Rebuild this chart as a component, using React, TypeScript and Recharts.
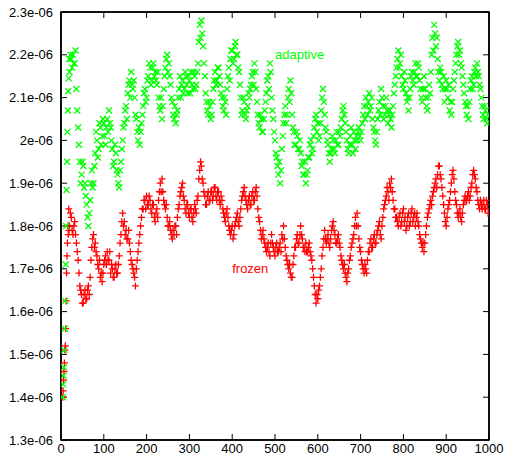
import React from "react";
import { ScatterChart, Scatter, XAxis, YAxis, ReferenceDot, ReferenceArea } from "recharts";

// values are in units of 1e-6
const xTicks = [0, 100, 200, 300, 400, 500, 600, 700, 800, 900, 1000];
const yTicks = [1.3, 1.4, 1.5, 1.6, 1.7, 1.8, 1.9, 2.0, 2.1, 2.2, 2.3];
const yTickLabels = ["1.3e-06", "1.4e-06", "1.5e-06", "1.6e-06", "1.7e-06", "1.8e-06", "1.9e-06", "2e-06", "2.1e-06", "2.2e-06", "2.3e-06"];

const HEAD_START = 4; // x of first head sample, step 1
const BODY_START = 20; // x of first body sample
const BAND_START = 22; // x of first band sample
const STEP = 4;

const adaptiveHead = [1.40, 1.43, 1.45, 1.47, 1.51, 1.56, 1.625, 1.71, 1.80, 1.884, 1.95, 2.02, 2.07, 2.115, 2.145, 2.19];
const frozenHead = [1.40, 1.415, 1.44, 1.46, 1.48, 1.51, 1.52, 1.56, 1.625, 1.69, 1.73, 1.76, 1.80, 1.78, 1.84, 1.79];

const adaptiveBody = [
  2.16, 2.19, 2.20, 2.18, 2.12, 2.03, 1.95, 1.92, 1.94, 1.90,
  1.85, 1.80, 1.86, 1.93, 1.90, 1.97, 2.00, 1.98, 2.03, 2.01,
  2.04, 1.99, 2.05, 2.07, 2.03, 1.98, 1.95, 1.97, 1.92, 1.89,
  1.95, 2.00, 2.04, 2.08, 2.11, 2.14, 2.16, 2.12, 2.10, 2.05,
  2.00, 1.99, 2.04, 2.08, 2.12, 2.10, 2.15, 2.17, 2.14, 2.18,
  2.16, 2.13, 2.10, 2.07, 2.05, 2.12, 2.17, 2.20, 2.18, 2.13,
  2.09, 2.05, 2.04, 2.07, 2.12, 2.10, 2.14, 2.12, 2.15, 2.11,
  2.14, 2.16, 2.12, 2.15, 2.13, 2.18, 2.27, 2.28, 2.22, 2.15,
  2.09, 2.06, 2.08, 2.06, 2.12, 2.16, 2.14, 2.17, 2.13, 2.10,
  2.07, 2.09, 2.12, 2.17, 2.19, 2.21, 2.19, 2.23, 2.20, 2.16,
  2.10, 2.07, 2.09, 2.05, 2.08, 2.10, 2.13, 2.16, 2.18, 2.12,
  2.06, 2.03, 2.05, 2.02, 2.07, 2.11, 2.15, 2.18, 2.10, 2.05,
  2.00, 1.96, 1.92, 1.90, 1.98, 2.04, 2.08, 2.06, 2.12, 2.14,
  2.06, 2.02, 1.99, 2.01, 1.98, 1.97, 1.95, 1.92, 1.90, 1.93,
  1.96, 2.00, 1.98, 2.03, 2.06, 2.04, 2.01, 2.07, 2.12, 2.06,
  2.02, 1.99, 1.95, 1.98, 2.00, 1.97, 2.02, 1.99, 2.01, 2.05,
  2.08, 2.04, 2.00, 1.97, 2.01, 1.99, 2.02, 1.98, 2.00, 2.03,
  2.00, 2.04, 2.08, 2.10, 2.06, 2.11, 2.08, 2.05, 2.02, 1.99,
  2.05, 2.09, 2.12, 2.08, 2.06, 2.10, 2.04, 2.07, 2.03, 2.08,
  2.13, 2.17, 2.21, 2.18, 2.15, 2.12, 2.14, 2.09, 2.07, 2.12,
  2.16, 2.13, 2.18, 2.15, 2.17, 2.12, 2.09, 2.15, 2.10, 2.07,
  2.13, 2.16, 2.24, 2.27, 2.22, 2.19, 2.14, 2.16, 2.12, 2.09,
  2.14, 2.10, 2.07, 2.06, 2.12, 2.16, 2.20, 2.23, 2.21, 2.17,
  2.13, 2.09, 2.06, 2.05, 2.12, 2.15, 2.13, 2.17, 2.18, 2.15,
  2.12, 2.08, 2.05, 2.07, 2.04,
];

const adaptiveBand = [
  2.20, 2.17, 2.18, 2.21, 2.07, 1.99, 1.90, 1.95, 1.89, 1.87,
  1.82, 1.83, 1.90, 1.89, 1.94, 2.02, 1.96, 2.04, 1.99, 2.05,
  2.01, 2.03, 2.02, 2.04, 2.00, 1.94, 1.99, 1.93, 1.90, 1.93,
  1.98, 2.03, 2.07, 2.05, 2.13, 2.10, 2.13, 2.14, 2.06, 2.02,
  2.03, 2.02, 2.06, 2.11, 2.09, 2.14, 2.18, 2.13, 2.17, 2.15,
  2.14, 2.16, 2.08, 2.10, 2.08, 2.15, 2.19, 2.16, 2.15, 2.10,
  2.06, 2.08, 2.06, 2.10, 2.15, 2.13, 2.11, 2.16, 2.13, 2.15,
  2.11, 2.13, 2.16, 2.12, 2.16, 2.23, 2.24, 2.25, 2.18, 2.11,
  2.07, 2.09, 2.05, 2.09, 2.14, 2.13, 2.17, 2.15, 2.11, 2.08,
  2.10, 2.06, 2.15, 2.14, 2.21, 2.18, 2.22, 2.20, 2.17, 2.13,
  2.06, 2.10, 2.06, 2.07, 2.11, 2.12, 2.15, 2.13, 2.16, 2.09,
  2.04, 2.06, 2.02, 2.05, 2.09, 2.14, 2.12, 2.16, 2.07, 2.02,
  1.97, 1.94, 1.95, 1.93, 2.01, 2.06, 2.04, 2.10, 2.09, 2.11,
  2.03, 1.99, 2.02, 1.98, 2.00, 1.94, 1.92, 1.95, 1.92, 1.96,
  1.99, 1.97, 2.01, 2.05, 2.02, 2.00, 2.04, 2.10, 2.09, 2.03,
  2.00, 1.97, 1.97, 2.01, 1.98, 2.00, 1.99, 2.02, 2.03, 2.07,
  2.06, 2.02, 1.98, 1.99, 2.03, 1.97, 2.00, 2.01, 2.02, 2.01,
  2.02, 2.06, 2.05, 2.08, 2.09, 2.07, 2.10, 2.03, 2.00, 2.02,
  2.07, 2.06, 2.10, 2.05, 2.08, 2.07, 2.06, 2.05, 2.06, 2.11,
  2.15, 2.19, 2.17, 2.20, 2.13, 2.16, 2.11, 2.10, 2.10, 2.15,
  2.14, 2.16, 2.15, 2.18, 2.14, 2.10, 2.12, 2.12, 2.08, 2.10,
  2.11, 2.20, 2.21, 2.25, 2.24, 2.16, 2.17, 2.13, 2.15, 2.12,
  2.12, 2.13, 2.09, 2.09, 2.14, 2.18, 2.22, 2.20, 2.18, 2.15,
  2.11, 2.08, 2.08, 2.09, 2.14, 2.12, 2.16, 2.15, 2.16, 2.13,
  2.10, 2.06, 2.08, 2.05, 2.06,
];

const frozenBody = [
  1.80, 1.82, 1.78, 1.81, 1.76, 1.72, 1.66, 1.64, 1.62, 1.65,
  1.63, 1.66, 1.68, 1.75, 1.78, 1.76, 1.73, 1.70, 1.68, 1.67,
  1.71, 1.73, 1.74, 1.72, 1.69, 1.70, 1.68, 1.71, 1.69, 1.73,
  1.78, 1.83, 1.81, 1.79, 1.77, 1.76, 1.72, 1.70, 1.68, 1.70,
  1.74, 1.78, 1.82, 1.84, 1.86, 1.87, 1.85, 1.86, 1.83, 1.85,
  1.81, 1.84, 1.86, 1.90, 1.91, 1.86, 1.84, 1.82, 1.80, 1.79,
  1.77, 1.78, 1.80, 1.82, 1.85, 1.88, 1.90, 1.86, 1.83, 1.85,
  1.82, 1.84, 1.81, 1.85, 1.83, 1.87, 1.93, 1.94, 1.90, 1.87,
  1.85, 1.88, 1.86, 1.88, 1.87, 1.89, 1.86, 1.88, 1.85, 1.86,
  1.83, 1.81, 1.84, 1.80, 1.78, 1.80, 1.78, 1.81, 1.83, 1.80,
  1.84, 1.87, 1.89, 1.86, 1.84, 1.87, 1.85, 1.88, 1.86, 1.89,
  1.84, 1.81, 1.77, 1.79, 1.76, 1.74, 1.76, 1.73, 1.78, 1.75,
  1.73, 1.76, 1.74, 1.76, 1.78, 1.80, 1.75, 1.72, 1.70, 1.69,
  1.68, 1.73, 1.75, 1.78, 1.76, 1.80, 1.77, 1.75, 1.76, 1.74,
  1.76, 1.73, 1.70, 1.66, 1.62, 1.63, 1.66, 1.70, 1.75, 1.79,
  1.76, 1.78, 1.75, 1.79, 1.81, 1.78, 1.76, 1.78, 1.75, 1.72,
  1.70, 1.69, 1.67, 1.70, 1.73, 1.76, 1.78, 1.82, 1.83, 1.77,
  1.74, 1.71, 1.69, 1.70, 1.72, 1.74, 1.77, 1.75, 1.78, 1.76,
  1.79, 1.81, 1.77, 1.82, 1.85, 1.87, 1.88, 1.90, 1.91, 1.86,
  1.84, 1.82, 1.80, 1.83, 1.81, 1.84, 1.82, 1.80, 1.83, 1.81,
  1.84, 1.82, 1.80, 1.83, 1.80, 1.77, 1.75, 1.74, 1.78, 1.82,
  1.84, 1.86, 1.87, 1.89, 1.91, 1.92, 1.94, 1.91, 1.87, 1.83,
  1.80, 1.84, 1.86, 1.90, 1.93, 1.88, 1.85, 1.82, 1.84, 1.81,
  1.85, 1.87, 1.86, 1.88, 1.87, 1.90, 1.93, 1.91, 1.88, 1.85,
  1.86, 1.84, 1.86, 1.84, 1.85,
];

const frozenBand = [
  1.83, 1.79, 1.80, 1.78, 1.74, 1.69, 1.65, 1.62, 1.64, 1.63,
  1.65, 1.64, 1.72, 1.77, 1.75, 1.74, 1.71, 1.72, 1.69, 1.69,
  1.72, 1.71, 1.72, 1.74, 1.71, 1.68, 1.70, 1.69, 1.71, 1.76,
  1.81, 1.80, 1.78, 1.77, 1.79, 1.74, 1.71, 1.69, 1.66, 1.72,
  1.76, 1.80, 1.84, 1.86, 1.84, 1.85, 1.87, 1.84, 1.85, 1.82,
  1.83, 1.82, 1.88, 1.88, 1.88, 1.85, 1.85, 1.80, 1.81, 1.78,
  1.79, 1.80, 1.78, 1.84, 1.87, 1.89, 1.87, 1.84, 1.85, 1.83,
  1.84, 1.82, 1.83, 1.84, 1.86, 1.91, 1.95, 1.91, 1.88, 1.85,
  1.87, 1.86, 1.88, 1.86, 1.89, 1.87, 1.88, 1.86, 1.87, 1.84,
  1.82, 1.83, 1.82, 1.79, 1.79, 1.77, 1.80, 1.82, 1.81, 1.82,
  1.86, 1.88, 1.87, 1.85, 1.86, 1.85, 1.87, 1.86, 1.88, 1.87,
  1.82, 1.79, 1.78, 1.77, 1.75, 1.75, 1.74, 1.76, 1.76, 1.74,
  1.75, 1.74, 1.75, 1.74, 1.77, 1.77, 1.73, 1.71, 1.71, 1.68,
  1.71, 1.75, 1.77, 1.76, 1.78, 1.78, 1.75, 1.74, 1.74, 1.75,
  1.74, 1.72, 1.68, 1.64, 1.64, 1.65, 1.68, 1.73, 1.77, 1.77,
  1.77, 1.76, 1.77, 1.80, 1.79, 1.76, 1.77, 1.76, 1.73, 1.71,
  1.71, 1.68, 1.69, 1.72, 1.75, 1.77, 1.80, 1.80, 1.80, 1.75,
  1.72, 1.70, 1.71, 1.69, 1.74, 1.76, 1.75, 1.77, 1.76, 1.78,
  1.80, 1.78, 1.80, 1.84, 1.86, 1.89, 1.86, 1.89, 1.88, 1.84,
  1.82, 1.81, 1.82, 1.80, 1.83, 1.81, 1.79, 1.82, 1.80, 1.83,
  1.81, 1.83, 1.82, 1.81, 1.78, 1.76, 1.76, 1.76, 1.80, 1.83,
  1.85, 1.85, 1.88, 1.90, 1.89, 1.94, 1.92, 1.89, 1.85, 1.81,
  1.82, 1.85, 1.88, 1.92, 1.91, 1.86, 1.83, 1.83, 1.82, 1.83,
  1.86, 1.86, 1.87, 1.86, 1.89, 1.92, 1.92, 1.89, 1.86, 1.84,
  1.85, 1.85, 1.84, 1.86, 1.83,
];

const GREEN = "#00ff00";
const RED = "#ff0000";

function buildSeries(head: number[], body: number[], band: number[]) {
  return [
    ...head.map((v, i) => ({ x: HEAD_START + i, y: v })),
    ...body.map((v, i) => ({ x: BODY_START + STEP * i, y: v })),
    ...band.map((v, i) => ({ x: BAND_START + STEP * i, y: v })),
  ];
}

const adaptiveData = buildSeries(adaptiveHead, adaptiveBody, adaptiveBand);
const frozenData = buildSeries(frozenHead, frozenBody, frozenBand);

const PlusMark = (props: any) => {
  const { cx, cy } = props;
  if (cx == null || cy == null) return null;
  const s = 3.5;
  return (
    <path
      d={`M${cx - s},${cy}H${cx + s}M${cx},${cy - s}V${cy + s}`}
      stroke={RED}
      strokeWidth={1.3}
      fill="none"
    />
  );
};

const CrossMark = (props: any) => {
  const { cx, cy } = props;
  if (cx == null || cy == null) return null;
  const s = 3;
  return (
    <path
      d={`M${cx - s},${cy - s}L${cx + s},${cy + s}M${cx - s},${cy + s}L${cx + s},${cy - s}`}
      stroke={GREEN}
      strokeWidth={1.3}
      fill="none"
    />
  );
};

const NoLabel = () => <g />;

const FONT = "'Liberation Sans', Arial, sans-serif";
const axisLine = { stroke: "#000", strokeWidth: 1.5 };
const tickLine = { stroke: "#000", strokeWidth: 1 };
const tickFont = { fill: "#000", fontSize: 13, fontFamily: FONT };

export default function App() {
  return (
    <div style={{ position: "absolute", left: 0, top: 0 }}>
      <ScatterChart
        width={506}
        height={462}
        margin={{ top: 2, right: 7, bottom: 0, left: 0 }}
        style={{ fontFamily: FONT }}
      >
        <XAxis
          xAxisId="b"
          type="number"
          dataKey="x"
          orientation="bottom"
          domain={[0, 1000]}
          allowDataOverflow
          ticks={xTicks}
          interval={0}
          height={22}
          tickSize={-6}
          tickMargin={10}
          axisLine={axisLine}
          tickLine={tickLine}
          tick={tickFont}
        />
        <XAxis
          xAxisId="t"
          type="number"
          dataKey="x"
          orientation="top"
          domain={[0, 1000]}
          allowDataOverflow
          ticks={xTicks}
          interval={0}
          height={10}
          tickSize={-6}
          axisLine={axisLine}
          tickLine={tickLine}
          tick={NoLabel}
        />
        <YAxis
          yAxisId="l"
          type="number"
          dataKey="y"
          orientation="left"
          domain={[1.3, 2.3]}
          allowDataOverflow
          ticks={yTicks}
          interval={0}
          width={61}
          tickSize={-6}
          tickMargin={14}
          axisLine={axisLine}
          tickLine={tickLine}
          tick={tickFont}
          tickFormatter={(v: number, i: number) => yTickLabels[i]}
        />
        <YAxis
          yAxisId="r"
          type="number"
          dataKey="y"
          orientation="right"
          domain={[1.3, 2.3]}
          allowDataOverflow
          ticks={yTicks}
          interval={0}
          width={10}
          tickSize={-6}
          axisLine={axisLine}
          tickLine={tickLine}
          tick={NoLabel}
        />
        <ReferenceArea
          xAxisId="b"
          yAxisId="l"
          x1={0}
          x2={1000}
          y1={1.3}
          y2={2.3}
          ifOverflow="visible"
          fill="none"
          fillOpacity={0}
          stroke="#000"
          strokeWidth={1.5}
          strokeOpacity={1}
        />
        <Scatter
          name="frozen"
          data={frozenData}
          xAxisId="b"
          yAxisId="l"
          shape={PlusMark}
          isAnimationActive={false}
        />
        <Scatter
          name="adaptive"
          data={adaptiveData}
          xAxisId="t"
          yAxisId="r"
          shape={CrossMark}
          isAnimationActive={false}
        />
        <ReferenceDot
          xAxisId="b"
          yAxisId="l"
          x={500}
          y={2.2}
          r={0}
          fill="none"
          stroke="none"
          label={{ value: "adaptive", position: "right", offset: 0, fill: GREEN, fontSize: 13, fontFamily: FONT }}
        />
        <ReferenceDot
          xAxisId="b"
          yAxisId="l"
          x={400}
          y={1.7}
          r={0}
          fill="none"
          stroke="none"
          label={{ value: "frozen", position: "right", offset: 0, fill: RED, fontSize: 13, fontFamily: FONT }}
        />
      </ScatterChart>
    </div>
  );
}
